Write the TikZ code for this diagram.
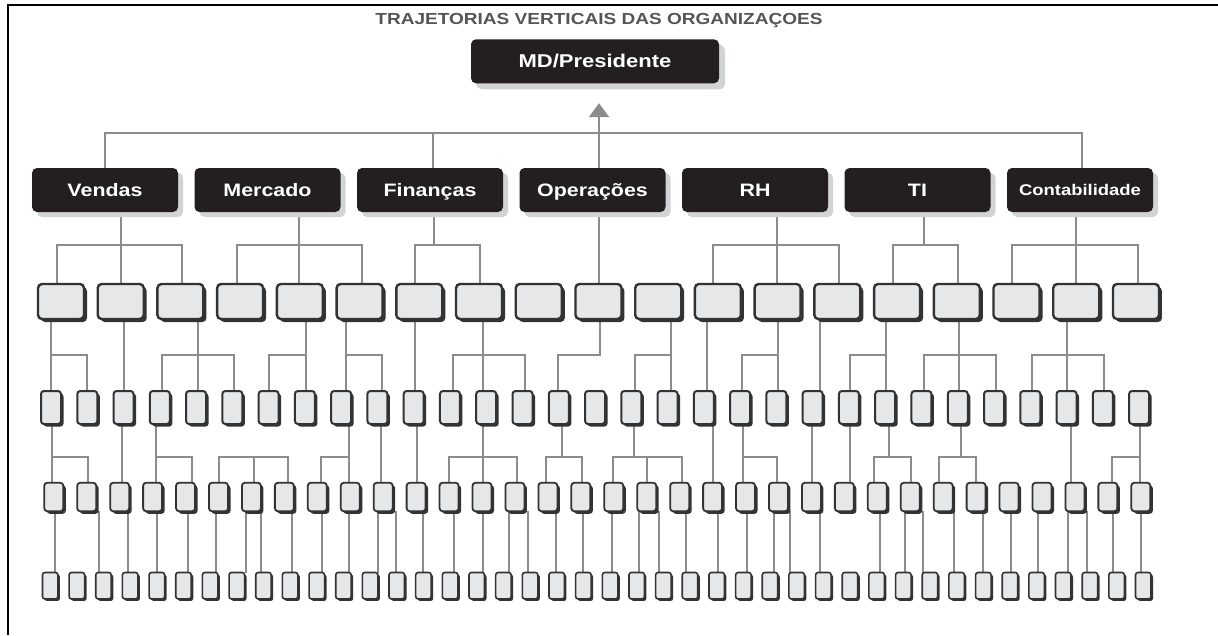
\documentclass[tikz,border=0pt]{standalone}
\usepackage{fontspec}
\usetikzlibrary{arrows.meta,shadows,backgrounds}
\newfontfamily\chartfont[FakeStretch=1.19]{Liberation Sans}
\definecolor{boxdark}{RGB}{35,31,32}
\definecolor{boxshade}{RGB}{209,211,212}
\definecolor{cellfill}{RGB}{230,231,232}
\definecolor{cellline}{RGB}{51,51,51}
\definecolor{linkgray}{RGB}{140,140,140}
\definecolor{titlegray}{RGB}{85,85,85}

% stem from a parent down to a bus, the bus itself, and drops to the children
\newcommand\orgfan[6]{%
  \draw[link] (#1.south -| #2,0) -- (#2,#3);
  \draw[link] (#4,#3) -- (#5,#3);
  \foreach \ch/\xx in {#6} {\draw[link] (\ch.north -| \xx,0) -- (\xx,#3);}%
}
% straight vertical link between two boxes
\newcommand\orgline[3]{%
  \draw[link] (#1.south -| #3,0) -- (#2.north -| #3,0);%
}

\begin{document}
\begin{tikzpicture}[x=1pt,y=-1pt,
  link/.style={draw=linkgray, line width=2pt, line cap=rect},
  dept/.style={fill=boxdark, rounded corners=5pt, minimum width=146pt,
    minimum height=44pt, inner sep=0pt, text=white, text height=12pt, text depth=0pt,
    font=\chartfont\bfseries\fontsize{18}{20}\selectfont,
    drop shadow={shadow xshift=5pt, shadow yshift=-5pt, fill=boxshade, opacity=1}},
  cellbase/.style={fill=cellfill, draw=cellline, inner sep=0pt},
  cellA/.style={cellbase, line width=2.4pt, rounded corners=4pt,
    minimum width=46pt, minimum height=35pt,
    drop shadow={shadow xshift=3pt, shadow yshift=-3pt, fill=cellline, opacity=1}},
  cellB/.style={cellbase, line width=2pt, rounded corners=3pt,
    minimum width=20pt, minimum height=33pt,
    drop shadow={shadow xshift=2.5pt, shadow yshift=-2.5pt, fill=cellline, opacity=1}},
  cellC/.style={cellbase, line width=1.8pt, rounded corners=3pt,
    minimum width=19pt, minimum height=28.5pt,
    drop shadow={shadow xshift=2.5pt, shadow yshift=-2.5pt, fill=cellline, opacity=1}},
  cellD/.style={cellbase, line width=1.6pt, rounded corners=2.5pt,
    minimum width=15.5pt, minimum height=26.5pt,
    drop shadow={shadow xshift=2pt, shadow yshift=-2pt, fill=cellline, opacity=1}}]
\useasboundingbox (0,0) rectangle (1218,635);

% frame
\draw[line width=1.5pt] (8,635) -- (8,5) -- (1219,5);

% title and head box
\node[text=titlegray, font=\chartfont\bfseries\fontsize{16}{18}\selectfont] (title) at (599,21)
  {TRAJETORIAS VERTICAIS DAS ORGANIZAÇOES};
\node[dept, minimum width=248pt, font=\chartfont\bfseries\fontsize{18.5}{20}\selectfont,
  drop shadow={shadow xshift=6pt, shadow yshift=-6pt, fill=boxshade, opacity=1}]
  (md) at (595,61.3) {MD/Presidente};

% departments
\node[dept] (vendas)    at (105,190)   {Vendas};
\node[dept] (mercado)   at (267.5,190) {Mercado};
\node[dept] (financas)  at (430,190)   {Finanças};
\node[dept] (operacoes) at (592.5,190) {Operações};
\node[dept] (rh)        at (755,190)   {RH};
\node[dept] (ti)        at (917.5,190) {TI};
\node[dept, font=\chartfont\bfseries\fontsize{15.5}{18}\selectfont, text height=11pt]
  (conta) at (1080,190) {Contabilidade};

% four rows of positions
\foreach \i in {0,...,18} \node[cellA] (a\i) at ({61+59.72*\i},301.5) {};
\foreach \i in {0,...,30} \node[cellB] (b\i) at ({51+36.27*\i},407.5) {};
\foreach \i in {0,...,33} \node[cellC] (c\i) at ({53.8+32.94*\i},497) {};
\foreach \i in {0,...,41} \node[cellD] (e\i) at ({50.2+26.66*\i},585.7) {};

\begin{scope}[on background layer]
  % departments up to the head
  \begin{scope}[link/.append style={line width=2.3pt}]
    \draw[link] (vendas.north -| 105,0) |- (1082,133) -- (conta.north -| 1082,0);
    \draw[link] (financas.north -| 433,0) -- (433,133);
    \draw[link, line cap=butt, -{Triangle[width=20pt,length=14pt]}, shorten >=19.7pt]
      (operacoes.north -| 599,0) -- (md.south -| 599,0);
    % departments down to the first row
    \orgfan{vendas}{121}{245}{57}{182}{a0/57,a1/121,a2/182}
    \orgfan{mercado}{299}{245}{237}{362}{a3/237,a4/299,a5/362}
    \orgfan{financas}{434}{245}{415}{480}{a6/415,a7/480}
    \orgline{operacoes}{a9}{599}
    \orgfan{rh}{777}{245}{713}{839}{a11/713,a12/777,a13/839}
    \orgfan{ti}{924}{245}{893}{958}{a14/893,a15/958}
    \orgfan{conta}{1076}{245}{1012}{1138}{a16/1012,a17/1076,a18/1138}
  \end{scope}
  % first row to second row
  \orgfan{a0}{51}{355}{51}{87}{b0/51,b1/87}
  \orgline{a1}{b2}{124}
  \orgfan{a2}{198}{355}{162}{234}{b3/162,b4/198,b5/234}
  \orgfan{a4}{306}{355}{269}{306}{b6/269,b7/306}
  \orgfan{a5}{346}{355}{346}{382}{b8/346,b9/382}
  \orgline{a6}{b10}{415}
  \orgfan{a7}{483}{355}{453}{525}{b11/453,b12/483,b13/525}
  \orgfan{a9}{600}{355}{558}{600}{b14/558}
  \orgfan{a10}{671}{355}{635}{671}{b16/635,b17/671}
  \orgline{a11}{b18}{707}
  \orgfan{a12}{778}{355}{742}{778}{b19/742,b20/778}
  \orgline{a13}{b21}{820}
  \orgfan{a14}{886}{355}{850}{886}{b22/850,b23/886}
  \orgfan{a15}{959}{355}{924}{996}{b24/924,b25/959,b26/996}
  \orgfan{a17}{1067}{355}{1032}{1104}{b27/1032,b28/1067,b29/1104}
  % second row to third row
  \begin{scope}[link/.append style={line width=1.8pt}]
    \orgfan{b0}{52}{457}{52}{88}{c0/52,c1/88}
    \orgline{b2}{c2}{122}
    \orgfan{b3}{156}{457}{156}{192}{c3/156,c4/192}
    \draw[link] (c5.north -| 219,0) |- (288,457) -- (c7.north -| 288,0);
    \draw[link] (c6.north -| 254,0) -- (254,457);
    \orgfan{b8}{349}{457}{321}{349}{c8/321,c9/349}
    \orgline{b9}{c10}{381}
    \orgline{b10}{c11}{417}
    \orgfan{b12}{483}{457}{449}{517}{c12/449,c13/483,c14/517}
    \orgfan{b14}{562}{457}{546}{582}{c15/546,c16/582}
    \orgfan{b16}{634}{457}{613}{682}{c17/613,c18/647,c19/682}
    \orgline{b18}{c20}{713}
    \orgfan{b19}{743}{457}{743}{777}{c21/743,c22/777}
    \orgline{b21}{c23}{812}
    \orgline{b22}{c24}{850}
    \orgfan{b23}{889}{457}{874}{911}{c25/874,c26/911}
    \orgfan{b25}{961}{457}{939}{976}{c27/939,c28/976}
    \orgline{b28}{c31}{1071}
    \orgfan{b30}{1140}{457}{1112}{1140}{c32/1112,c33/1140}
    % third row to fourth row
    \foreach \k/\m/\xx in {0/0/55, 1/2/99, 2/3/128, 3/4/157, 4/5/188, 5/6/216,
        6/7/246, 6/8/261, 7/9/292, 8/10/322, 9/11/349, 10/12/378, 10/13/396,
        11/14/423, 12/15/454, 13/16/483, 14/17/509, 14/18/528, 15/19/556,
        16/20/583, 17/21/612, 18/22/639, 18/23/659, 19/24/686, 20/25/718,
        21/26/747, 22/27/774, 22/28/790, 23/29/820, 25/31/880, 26/32/905,
        26/33/923, 27/34/954, 28/35/983, 29/36/1011, 30/37/1038, 31/38/1068,
        31/39/1087, 32/40/1113, 33/41/1141}
      \draw[link] (c\k.south -| \xx,0) -- (e\m.north -| \xx,0);
  \end{scope}
\end{scope}
\end{tikzpicture}
\end{document}
